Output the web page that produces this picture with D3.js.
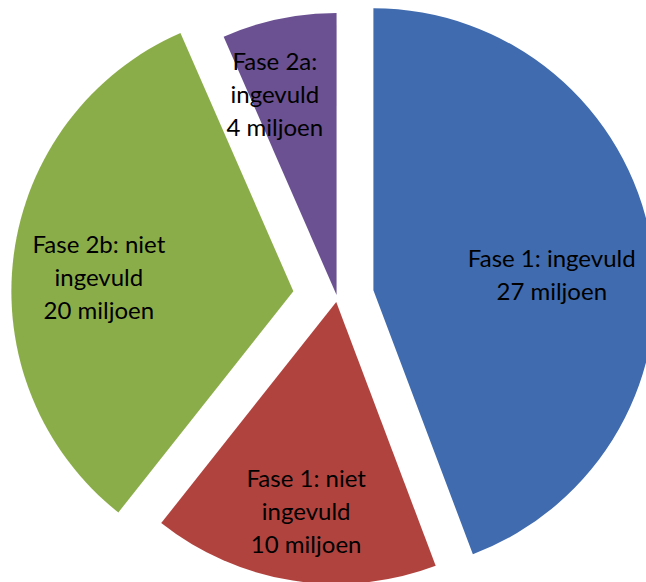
<!DOCTYPE html>
<html>
<head>
<meta charset="utf-8">
<script src="https://cdn.jsdelivr.net/npm/d3@7"></script>
<style>
  body { margin: 0; background: #fff; }
  svg { display: block; }
  .lbl { font-family: Lato, "Open Sans", sans-serif; font-size: 24px; fill: #000; }
</style>
</head>
<body>
<div id="chart"></div>
<script>
// pie data (miljoen)
const labels = [
  ["Fase 1: ingevuld", "27 miljoen"],
  ["Fase 1: niet", "ingevuld", "10 miljoen"],
  ["Fase 2b: niet", "ingevuld", "20 miljoen"],
  ["Fase 2a:", "ingevuld", "4 miljoen"]
];
const values = [27, 10, 20, 4];
const colors = ["#406bae", "#b1433f", "#8bad49", "#6b5192"];

const width = 646,
  height = 582,
  cx = 337, cy = 297,
  radius = 282;

// how far each slice is pulled out, and where its label sits
const explode = [37, 5, 44, 2];
const labelTweak = [ // [angle offset in deg, distance from slice tip]
  [5.5, 179], [-0.7, 212], [-3.3, 195], [-5.3, 210]
];

const svg = d3.select("#chart")
  .append("svg")
  .attr("width", width)
  .attr("height", height)
  .attr("viewBox", [0, 0, width, height]);

const pie = d3.pie().sort(null).value(d => d);
const arcs = pie(values);

const arc = d3.arc().innerRadius(0).outerRadius(radius);

const slices = svg.selectAll("g.slice")
  .data(arcs)
  .join("g")
  .attr("class", "slice")
  .attr("transform", (d, i) => {
    let mid = (d.startAngle + d.endAngle) / 2;
    let x = cx + Math.sin(mid) * explode[i],
        y = cy - Math.cos(mid) * explode[i];
    return `translate(${x},${y})`;
  });

slices.append("path")
  .attr("d", arc)
  .attr("fill", (d, i) => colors[i]);

// labels, placed polar from the slice tip
slices.each(function(d, i) {
  let mid = (d.startAngle + d.endAngle) / 2 + labelTweak[i][0] * Math.PI / 180;
  let lx = Math.sin(mid) * labelTweak[i][1],
      ly = -Math.cos(mid) * labelTweak[i][1];
  let lines = labels[i];
  let lineH = 33;
  let t = d3.select(this).append("text")
    .attr("class", "lbl")
    .attr("text-anchor", "middle")
    .attr("x", lx)
    .attr("y", ly);
  t.selectAll("tspan")
    .data(lines)
    .join("tspan")
    .attr("x", lx)
    .attr("y", (l, j) => ly + (j - (lines.length - 1) / 2) * lineH)
    .attr("dy", "0.35em")
    .text(l => l);
});
</script>
</body>
</html>
